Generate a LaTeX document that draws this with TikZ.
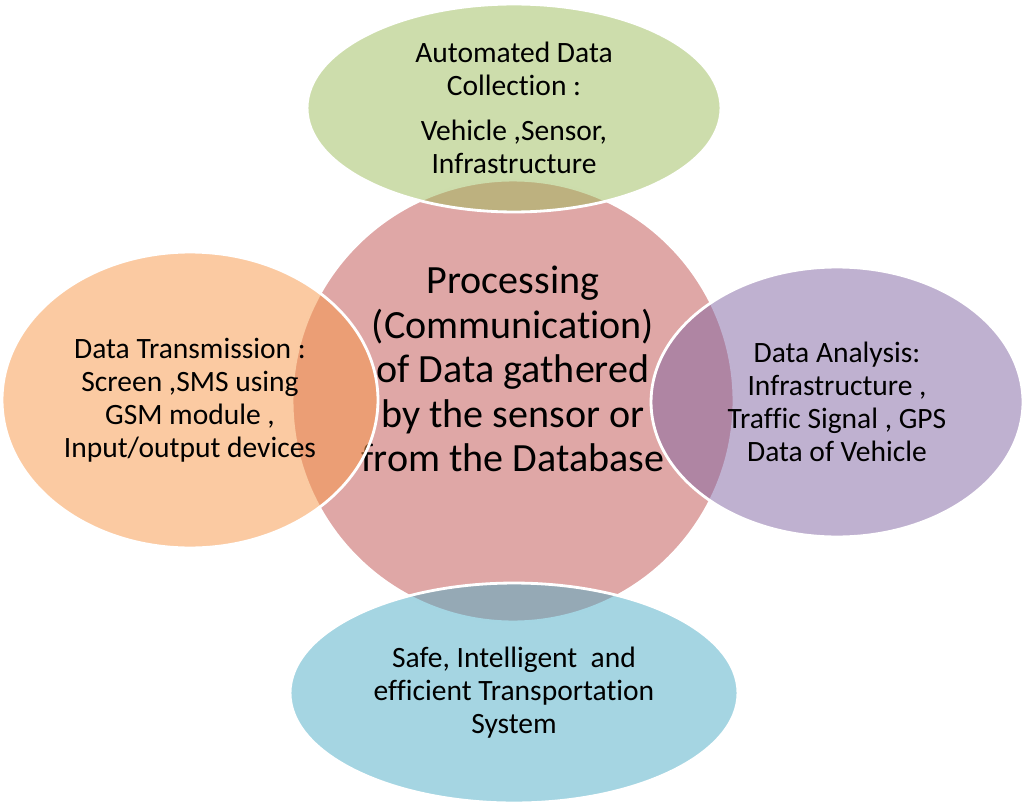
\documentclass[tikz,border=0pt]{standalone}
\usepackage{fontspec}
\setmainfont{Carlito}[Ligatures=NoCommon]
\usetikzlibrary{shapes.geometric}

\definecolor{procred}{HTML}{C0504D}
\definecolor{collgreen}{HTML}{9BBB59}
\definecolor{transorange}{HTML}{F79646}
\definecolor{anapurple}{HTML}{8064A2}
\definecolor{sysblue}{HTML}{4BACC6}

\begin{document}
\begin{tikzpicture}[x=0.02cm,y=-0.02cm,
    bubble/.style={ellipse, draw=white, line width=1.6pt, fill opacity=0.5,
      text opacity=1, align=center, inner sep=0pt,
      font=\fontsize{16.8}{18.8}\selectfont}]
    \useasboundingbox (0,0) rectangle (1026,804);
    % processing in the middle
    \node[circle, draw=white, line width=1.6pt, fill=procred, fill opacity=0.5,
      minimum size=8.84cm] (proc) at (513,401) {};
    \node[font=\fontsize{22.8}{25.3}\selectfont, align=center] (proctext) at (513,369)
      {Processing\\(Communication)\\of Data gathered\\by the sensor or\\from the Database};
    % data collection (top)
    \node[bubble, fill=collgreen, minimum width=8.28cm, minimum height=4.16cm] (collect) at (514,108)
      {Automated Data\\Collection :\\[0.24cm]Vehicle ,Sensor,\\Infrastructure};
    % transmission (left)
    \node[bubble, fill=transorange, minimum width=7.52cm, minimum height=5.92cm] (trans) at (190,400)
      {Data Transmission :\\Screen ,SMS using\\GSM module ,\\Input/output devices};
    % analysis (right)
    \node[bubble, fill=anapurple, minimum width=7.44cm, minimum height=5.4cm] (analysis) at (837,402)
      {Data Analysis:\\Infrastructure ,\\Traffic Signal , GPS\\Data of Vehicle};
    % transportation system (bottom)
    \node[bubble, fill=sysblue, minimum width=8.96cm, minimum height=4.4cm] (system) at (514,693)
      {Safe, Intelligent \ and\\efficient Transportation\\System};
\end{tikzpicture}
\end{document}
